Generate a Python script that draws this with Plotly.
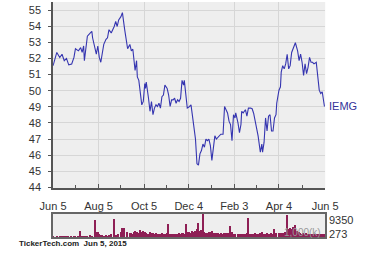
import pandas as pd
import plotly.graph_objects as go

# Day offsets from 2014-06-05 and IEMG closing prices
days = [0, 5, 9, 12, 15, 18, 21, 25, 28, 30,
        34, 37, 39, 41, 42, 44, 46, 50, 52, 53,
        56, 58, 60, 62, 64, 66, 68, 71, 73, 75,
        78, 82, 84, 86, 88, 91, 93, 96, 100, 103,
        105, 107, 109, 110, 112, 113, 115, 117, 119, 121,
        123, 124, 125, 128, 130, 132, 134, 136, 138, 140,
        142, 144, 146, 148, 150, 153, 155, 157, 159, 161,
        163, 165, 167, 169, 171, 173, 175, 176, 178, 180,
        183, 185, 187, 189, 191, 193, 195, 197, 199, 201,
        203, 205, 207, 209, 211, 213, 215, 217, 219, 221,
        223, 225, 228, 230, 232, 234, 236, 238, 240, 242,
        244, 245, 248, 250, 252, 253, 255, 258, 260, 262,
        265, 267, 269, 271, 274, 275, 278, 280, 281, 283,
        285, 287, 289, 291, 293, 295, 297, 299, 300, 303,
        305, 306, 308, 310, 312, 314, 316, 318, 320, 322,
        324, 325, 328, 330, 332, 334, 336, 338, 340, 342,
        344, 346, 348, 350, 353, 355, 357, 359, 361, 363,
        364]

prices = [51.55, 52.37, 52.06, 52.26, 51.86, 52.0, 51.6, 51.65, 52.06, 52.6,
          52.47, 52.67, 52.37, 52.77, 51.86, 52.77, 53.38, 53.58, 53.68, 53.28,
          52.77, 52.26, 52.77, 52.06, 51.76, 52.37, 52.87, 53.18, 53.28, 53.78,
          53.58, 53.98, 54.29, 53.98, 54.39, 54.59, 54.84, 53.8, 52.6, 52.87,
          52.47, 52.57, 51.86, 51.25, 51.86, 50.85, 50.64, 49.73, 49.12, 49.33,
          50.44, 50.14, 50.54, 49.53, 48.72, 49.33, 48.51, 48.92, 49.12, 49.02,
          49.22, 48.92, 49.63, 49.73, 50.34, 50.14, 49.73, 49.02, 49.43, 49.43,
          49.53, 49.22, 49.43, 49.33, 49.53, 50.64, 50.34, 50.64, 49.94, 48.92,
          49.02, 49.12, 48.42, 47.5, 47.0, 45.47, 45.38, 46.08, 46.29, 46.69,
          46.49, 47.0, 46.9, 47.0, 46.59, 45.68, 46.29, 47.2, 47.0, 47.1,
          47.2, 47.3, 47.3, 49.02, 48.82, 48.62, 48.11, 47.9, 46.9, 48.51,
          48.31, 48.62, 48.0, 47.4, 47.9, 48.72, 48.62, 48.82, 48.42, 48.92,
          48.92, 48.88, 48.6, 48.11, 47.3, 47.2, 46.18, 46.69, 46.18, 46.79,
          48.31, 47.5, 48.42, 48.51, 47.5, 47.5, 48.31, 48.51, 49.22, 50.03,
          50.24, 51.15, 51.55, 51.35, 51.66, 52.26, 51.35, 51.55, 52.37, 52.57,
          52.77, 52.97, 52.47, 51.86, 52.26, 51.76, 50.95, 51.66, 51.05, 51.45,
          52.06, 51.76, 51.76, 51.66, 51.76, 50.95, 50.03, 49.83, 49.93, 49.33,
          49.02]

# Volume (thousands of shares) on the same days
volumes = [900, 800, 750, 700, 800, 700, 850, 750, 700, 800,
           900, 2900, 800, 900, 1000, 800, 900, 1100, 1000, 900,
           7200, 2500, 2300, 1500, 1200, 1100, 1000, 1200, 1000, 1300,
           1500, 7500, 1400, 1200, 1500, 2500, 4200, 4000, 2500, 2200,
           2000, 1800, 2500, 3000, 2200, 2600, 2000, 3200, 2400, 2800,
           2500, 2000, 2200, 1800, 2300, 1900, 2100, 1600, 1900, 1700,
           1800, 1500, 2000, 1700, 1600, 1900, 5600, 1800, 1500, 1700,
           1600, 1800, 1500, 2000, 1700, 1900, 2200, 1800, 5500, 2500,
           2600, 2200, 3000, 2400, 2800, 3600, 5900, 2800, 3200, 9350,
           2400, 2200, 2000, 2600, 2300, 2800, 2100, 1900, 2000, 2200,
           1800, 2000, 1700, 2100, 1900, 2200, 2000, 4800, 2500, 1800,
           1700, 1600, 1500, 1800, 1400, 1600, 1500, 1700, 1900, 8000,
           1800, 1600, 1700, 1900, 1500, 1800, 2000, 2300, 2000, 1800,
           1700, 1900, 1600, 1800, 2000, 1800, 3500, 2000, 1800, 2200,
           2000, 1800, 2200, 2000, 2400, 9300, 3800, 4200, 3500, 4500,
           3200, 5300, 3000, 2600, 2200, 1800, 2000, 1700, 1900, 1600,
           1500, 1700, 1600, 1500, 1800, 1600, 1700, 1500, 1600, 1400,
           1500]

tick_dates = ["2014-06-05", "2014-08-05", "2014-10-05", "2014-12-04",
              "2015-02-03", "2015-04-04", "2015-06-05"]
tick_labels = ["Jun 5", "Aug 5", "Oct 5", "Dec 4", "Feb 3", "Apr 4", "Jun 5"]
minor_dates = ["2014-07-05", "2014-09-04", "2014-11-04", "2015-01-03",
               "2015-03-05", "2015-05-05"]
vol_max, vol_min = 9350, 273
ticker = "IEMG"

start = pd.Timestamp("2014-06-05")
dates = [start + pd.Timedelta(days=d) for d in days]

FONT = "Liberation Sans, Arial, sans-serif"
W, H = 382, 255
x0, x1 = 43 / W, 335 / W

fig = go.Figure()
fig.add_trace(go.Scatter(x=dates, y=prices, mode="lines",
                         line=dict(color="#3535b0", width=1.1),
                         xaxis="x", yaxis="y", hoverinfo="skip"))
fig.add_trace(go.Bar(x=dates, y=volumes, marker=dict(color="#8e1f55", line=dict(width=0)),
                     width=1.8 * 86400000, xaxis="x2", yaxis="y2", hoverinfo="skip"))

xr = [tick_dates[0], tick_dates[-1]]
fig.update_layout(
    width=W, height=H, margin=dict(l=0, r=0, t=0, b=0),
    paper_bgcolor="white", plot_bgcolor="#eeeeee", showlegend=False,
    bargap=0,
    font=dict(family=FONT, size=11, color="#333333"),
    xaxis=dict(domain=[x0, x1], anchor="y", type="date", range=xr,
               tickmode="array", tickvals=tick_dates, ticktext=tick_labels,
               ticks="inside", ticklen=4, tickcolor="#555555", tickwidth=1,
               showline=True, linecolor="#555555", linewidth=1.5,
               showgrid=True, gridcolor="#d6d6d6", gridwidth=1,
               minor=dict(tickvals=minor_dates, ticks="inside", ticklen=3,
                          tickcolor="#555555", showgrid=False),
               tickfont=dict(size=11, color="#333333"), ticklabelstandoff=7,
               zeroline=False, fixedrange=True),
    yaxis=dict(domain=[1 - 192 / H, 1 - 2 / H], anchor="x",
               range=[43.95, 55.5], tick0=44, dtick=1,
               ticks="outside", ticklen=3, tickcolor="#555555",
               showline=True, linecolor="#555555", linewidth=1.5,
               showgrid=True, gridcolor="#d6d6d6", gridwidth=1,
               tickfont=dict(size=11, color="#333333"), ticklabelstandoff=5,
               zeroline=False, fixedrange=True),
    xaxis2=dict(domain=[x0, x1], anchor="y2", type="date", range=xr,
                showticklabels=False, ticks="", showgrid=False,
                showline=True, mirror=True, linecolor="#666666", linewidth=1.5,
                zeroline=False, fixedrange=True),
    yaxis2=dict(domain=[1 - 242 / H, 1 - 218 / H], anchor="x2",
                range=[vol_min, vol_max * 1.02], showticklabels=False, ticks="",
                showgrid=False, showline=True, mirror=True,
                linecolor="#666666", linewidth=1.5, zeroline=False,
                fixedrange=True),
)

ann = [
    dict(text=ticker, x=337 / W, y=prices[-1], xref="paper", yref="y",
         xanchor="left", yanchor="middle", showarrow=False,
         font=dict(size=11, color="#333399", family=FONT)),
    dict(text=str(vol_max), x=337 / W, y=1 - 224 / H, xref="paper", yref="paper",
         xanchor="left", yanchor="middle", showarrow=False,
         font=dict(size=11, color="#333333", family=FONT)),
    dict(text=str(vol_min), x=337 / W, y=1 - 239 / H, xref="paper", yref="paper",
         xanchor="left", yanchor="middle", showarrow=False,
         font=dict(size=11, color="#333333", family=FONT)),
    dict(text="1,000(k)", x=333 / W, y=1 - 237 / H, xref="paper", yref="paper",
         xanchor="right", yanchor="middle", showarrow=False,
         font=dict(size=10, color="#999999", family=FONT)),
    dict(text="<b>TickerTech.com\u00a0 Jun 5, 2015</b>", x=4 / W, y=1 - 248 / H,
         xref="paper", yref="paper", xanchor="left", yanchor="middle",
         showarrow=False, font=dict(size=8, color="#222222", family=FONT)),
]
fig.update_layout(annotations=ann)

fig.write_html("out.html", config={"displayModeBar": False})
